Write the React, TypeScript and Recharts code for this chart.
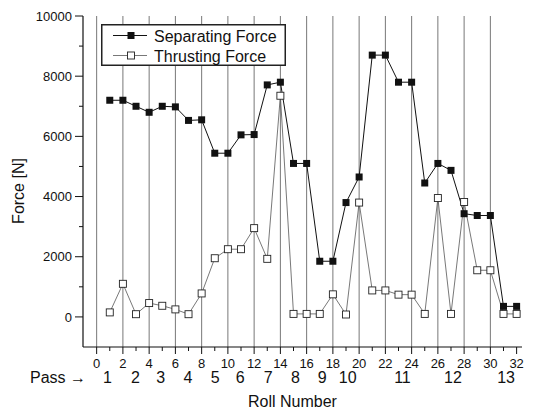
import React from 'react';
import { LineChart, Line, XAxis, YAxis, ReferenceLine, Legend } from 'recharts';

const rolls = [1, 2, 3, 4, 5, 6, 7, 8, 9, 10, 11, 12, 13, 14, 15, 16, 17, 18, 19, 20, 21, 22, 23, 24, 25, 26, 27, 28, 29, 30, 31, 32];
const separatingForce = [7200, 7200, 7000, 6800, 7000, 6980, 6530, 6550, 5440, 5440, 6050, 6060, 7710, 7800, 5100, 5100, 1850, 1850, 3800, 4650, 8700, 8700, 7800, 7800, 4450, 5100, 4870, 3430, 3370, 3370, 350, 350];
const thrustingForce = [150, 1100, 90, 460, 370, 250, 90, 780, 1950, 2250, 2250, 2950, 1930, 7350, 100, 100, 100, 750, 80, 3800, 880, 880, 740, 740, 100, 3950, 100, 3820, 1550, 1550, 100, 100];

const rollTicks = [0, 1, 2, 3, 4, 5, 6, 7, 8, 9, 10, 11, 12, 13, 14, 15, 16, 17, 18, 19, 20, 21, 22, 23, 24, 25, 26, 27, 28, 29, 30, 31, 32];
const forceTicks = [0, 1000, 2000, 3000, 4000, 5000, 6000, 7000, 8000, 9000, 10000];
const passLabels = ['1', '2', '3', '4', '5', '6', '7', '8', '9', '10', '11', '12', '13'];
const passPositions = [0.82, 2.95, 4.88, 6.95, 9.04, 10.94, 13.08, 15.15, 17.18, 19.13, 23.3, 27.15, 31.2];
const passBoundaries = [0, 2, 4, 6, 8, 10, 12, 14, 16, 18, 20, 22, 24, 26, 28, 30];

const data = rolls.map((r, i) => ({ roll: r, sep: separatingForce[i], thr: thrustingForce[i] }));

const FONT = 'Liberation Sans, Arial, sans-serif';
const INK = '#111';
const X_DOMAIN: [number, number] = [-1.04, 32.41];

const RollTick = (props: any) => {
  const { x, y, payload } = props;
  const v = payload.value;
  const major = v % 2 === 0;
  return (
    <g>
      <line x1={x} x2={x} y1={y} y2={y + (major ? 7 : 4)} stroke={INK} strokeWidth={1} />
      {major && (
        <text x={x} y={y + 21} textAnchor="middle" fontSize={13} fontFamily={FONT} fill={INK}>
          {v}
        </text>
      )}
    </g>
  );
};

const ForceTick = (props: any) => {
  const { x, y, payload } = props;
  const v = payload.value;
  const major = v % 2000 === 0;
  return (
    <g>
      <line x1={x - (major ? 8 : 4)} x2={x} y1={y} y2={y} stroke={INK} strokeWidth={1} />
      {major && (
        <text x={x - 11} y={y + 4.6} textAnchor="end" fontSize={13} fontFamily={FONT} fill={INK}>
          {v}
        </text>
      )}
    </g>
  );
};

const PassTick = (props: any) => {
  const { x, y, index } = props;
  return (
    <text x={x} y={y + 12} textAnchor="middle" fontSize={16} fontFamily={FONT} fill={INK}>
      {passLabels[index]}
    </text>
  );
};

const FilledSquare = (props: any) => {
  const { cx, cy, index } = props;
  if (cx == null || cy == null) return <g key={`fs${index}`} />;
  return <rect key={`fs${index}`} x={cx - 3.5} y={cy - 3.5} width={7} height={7} fill={INK} />;
};

const OpenSquare = (props: any) => {
  const { cx, cy, index } = props;
  if (cx == null || cy == null) return <g key={`os${index}`} />;
  return <rect key={`os${index}`} x={cx - 3.5} y={cy - 3.5} width={7} height={7} fill="#fff" stroke="#222" strokeWidth={0.9} />;
};

const LegendBox = () => (
  <svg width={186} height={43} style={{ display: 'block' }}>
    <rect x={0.75} y={0.75} width={183.5} height={40.5} fill="#fff" stroke="#222" strokeWidth={1.5} />
    <line x1={12} x2={46} y1={11.5} y2={11.5} stroke={INK} strokeWidth={1} />
    <rect x={26.5} y={8} width={7} height={7} fill={INK} />
    <text x={53} y={17.5} fontSize={16} fontFamily={FONT} fill={INK}>Separating Force</text>
    <line x1={12} x2={46} y1={31.5} y2={31.5} stroke="#555" strokeWidth={0.8} />
    <rect x={26.5} y={28} width={7} height={7} fill="#fff" stroke="#222" strokeWidth={0.9} />
    <text x={53} y={37.5} fontSize={16} fontFamily={FONT} fill={INK}>Thrusting Force</text>
  </svg>
);

export default function App() {
  return (
    <div style={{ position: 'absolute', left: 0, top: 0, background: '#fff' }}>
      <LineChart
        width={537}
        height={410}
        data={data}
        margin={{ top: 16, right: 15, left: 0, bottom: 23 }}
      >
        <XAxis
          xAxisId="a"
          dataKey="roll"
          type="number"
          domain={X_DOMAIN}
          allowDataOverflow
          ticks={rollTicks}
          interval={0}
          tickSize={0}
          tickMargin={0}
          tickLine={false}
          tick={RollTick}
          axisLine={{ stroke: INK, strokeWidth: 1.2 }}
          height={24}
        />
        <XAxis
          xAxisId="b"
          dataKey="roll"
          type="number"
          domain={X_DOMAIN}
          allowDataOverflow
          ticks={passPositions}
          interval={0}
          tickSize={0}
          tickMargin={0}
          tickLine={false}
          axisLine={false}
          tick={PassTick}
          height={16}
        />
        <YAxis
          type="number"
          domain={[-1000, 10000]}
          allowDataOverflow
          ticks={forceTicks}
          interval={0}
          tickSize={0}
          tickMargin={0}
          tickLine={false}
          tick={ForceTick}
          axisLine={{ stroke: INK, strokeWidth: 1.2 }}
          width={83}
        />
        {passBoundaries.map((b) => (
          <ReferenceLine key={b} xAxisId="a" x={b} stroke="#555" strokeWidth={0.8} />
        ))}
        <Line
          xAxisId="a"
          dataKey="sep"
          name="Separating Force"
          stroke={INK}
          strokeWidth={1}
          dot={FilledSquare}
          isAnimationActive={false}
        />
        <Line
          xAxisId="a"
          dataKey="thr"
          name="Thrusting Force"
          stroke="#555"
          strokeWidth={0.8}
          dot={OpenSquare}
          isAnimationActive={false}
        />
        <Legend
          layout="horizontal"
          verticalAlign="middle"
          align="center"
          content={LegendBox}
          wrapperStyle={{ position: 'absolute', left: 101, top: 24, width: 186, height: 43 }}
        />
        <text x={18} y={191} transform="rotate(-90 18 191)" textAnchor="middle" dominantBaseline="central" fontSize={16} fontFamily={FONT} fill={INK}>
          Force [N]
        </text>
        <text x={30} y={382.7} fontSize={16} fontFamily={FONT} fill={INK}>
          Pass →
        </text>
        <text x={292.5} y={406.5} textAnchor="middle" fontSize={16} fontFamily={FONT} fill={INK}>
          Roll Number
        </text>
      </LineChart>
    </div>
  );
}
